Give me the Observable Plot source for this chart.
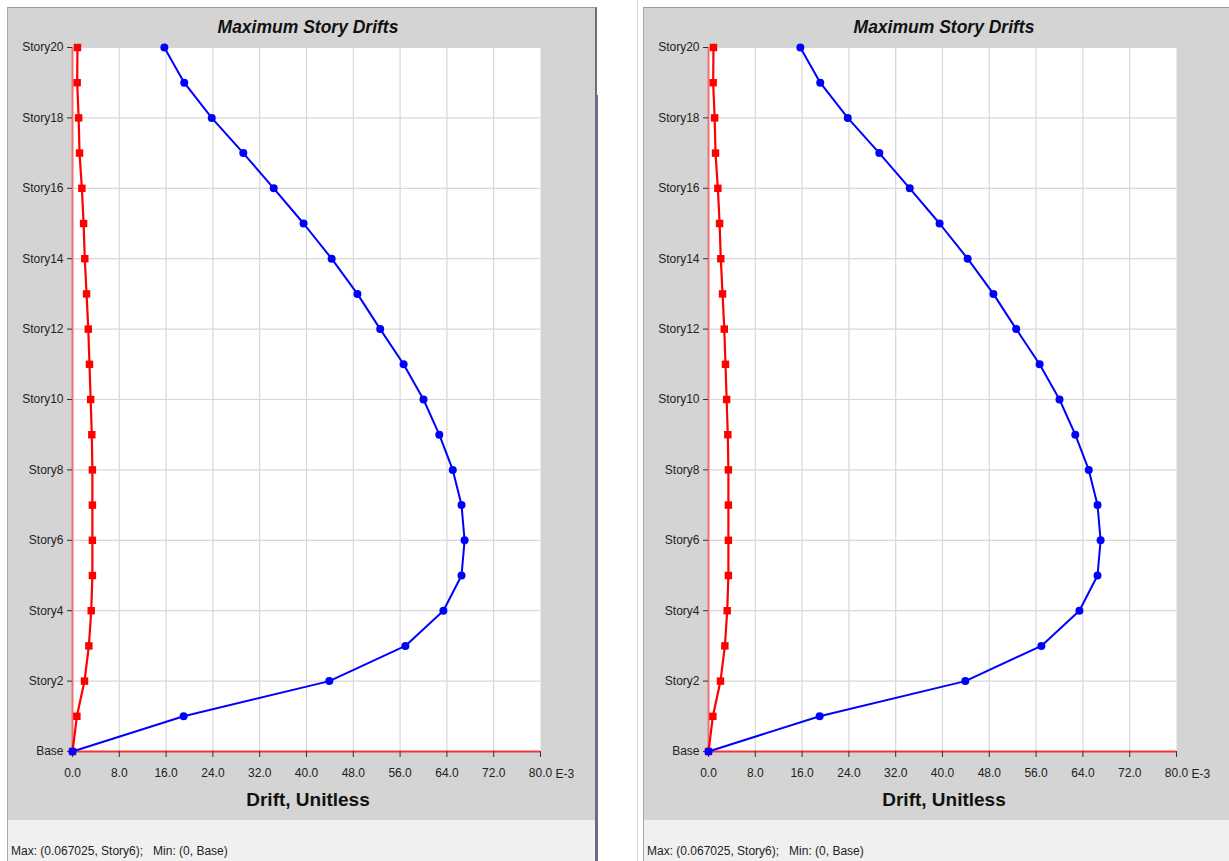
<!DOCTYPE html>
<html>
<head>
<meta charset="utf-8">
<script src="https://cdn.jsdelivr.net/npm/d3@7"></script>
<script src="https://cdn.jsdelivr.net/npm/@observablehq/plot@0.6"></script>
<style>
  html, body { margin: 0; padding: 0; background: #ffffff; width: 1229px; height: 861px; overflow: hidden; }
  body { position: relative; font-family: "Liberation Sans", Arial, sans-serif; }
  .panel { position: absolute; top: 7px; height: 860px; background: #f0f0f0; box-sizing: border-box;
           border-top: 1px solid #9a9a9a; border-left: 1px solid #a8a8a8; }
  .gray { position: absolute; left: 0; top: 0; width: 100%; height: 812px; background: #d4d4d4; }
  .plotbox { position: absolute; top: 0; }
  .title { position: absolute; top: 9px; font-weight: bold; font-style: italic; font-size: 17.5px; color: #111;
           transform: translateX(-50%); white-space: nowrap; }
  .xlabel { position: absolute; top: 781px; font-weight: bold; font-size: 19px; color: #111;
            transform: translateX(-50%); white-space: nowrap; }
  .status { position: absolute; top: 836px; font-size: 12px; color: #222; white-space: pre; }
</style>
</head>
<body>
<div id="root"></div>
<script>
// ---- data (drift values in E-3 units) ----
const stories = ["Base","Story1","Story2","Story3","Story4","Story5","Story6","Story7","Story8","Story9","Story10",
                 "Story11","Story12","Story13","Story14","Story15","Story16","Story17","Story18","Story19","Story20"];
const driftBlue = [0, 19.0, 43.9, 56.9, 63.4, 66.5, 67.025, 66.5, 65.0, 62.7, 60.0,
                   56.6, 52.6, 48.7, 44.3, 39.5, 34.4, 29.2, 23.8, 19.1, 15.7];
const driftRed  = [0, 0.75, 2.05, 2.8, 3.2, 3.4, 3.4, 3.4, 3.4, 3.3, 3.1,
                   2.9, 2.7, 2.4, 2.1, 1.9, 1.6, 1.2, 1.05, 0.8, 0.85];
const xTicks = [0, 8, 16, 24, 32, 40, 48, 56, 64, 72, 80];
const yTickLabels = ["Base","Story2","Story4","Story6","Story8","Story10","Story12","Story14","Story16","Story18","Story20"];
const chartTitle = "Maximum Story Drifts";
const xLabel = "Drift, Unitless";
const xUnitSuffix = "E-3";
const statusText = "Max: (0.067025, Story6);   Min: (0, Base)";

const blueData = stories.map((s, i) => ({story: s, drift: driftBlue[i]}));
const redData = stories.map((s, i) => ({story: s, drift: driftRed[i]}));

const W = 586, H = 812, ML = 64, MR = 54, MT = 39, MB = 69;

function makeChart() {
  return Plot.plot({
    width: W, height: H,
    marginLeft: ML, marginRight: MR, marginTop: MT, marginBottom: MB,
    style: {background: "transparent", fontFamily: "'Liberation Sans', Arial, sans-serif", fontSize: "12px", color: "#222"},
    x: {domain: [0, 80], label: null},
    y: {type: "point", domain: stories, reverse: true, padding: 0, round: false, label: null},
    marks: [
      Plot.frame({fill: "white", stroke: null}),
      Plot.ruleX(xTicks.slice(1, -1), {stroke: "#d8d8d8", strokeWidth: 1.2}),
      Plot.ruleY(yTickLabels.slice(1), {stroke: "#d8d8d8", strokeWidth: 1.2}),
      Plot.ruleX([0], {stroke: "#f07070", strokeWidth: 2}),
      Plot.ruleY(["Base"], {stroke: "#f03838", strokeWidth: 1.8}),
      Plot.axisX({ticks: xTicks, tickFormat: d => d.toFixed(1), tickSize: 6, tickPadding: 11, stroke: "#333", fill: "#222", label: null}),
      Plot.text([80], {x: d => d, y: () => "Base", text: () => xUnitSuffix, textAnchor: "start", dx: 15, dy: 23, fill: "#222", fontSize: 12}),
      Plot.axisY({ticks: yTickLabels, tickSize: 5, tickPadding: 4, stroke: "#333", fill: "#222", label: null}),
      Plot.line(redData, {x: "drift", y: "story", stroke: "#ff0000", strokeWidth: 2.2}),
      Plot.dot(redData, {x: "drift", y: "story", symbol: "square", r: 4.2, fill: "#ff0000", stroke: null}),
      Plot.line(blueData, {x: "drift", y: "story", stroke: "#0000ff", strokeWidth: 2}),
      Plot.dot(blueData, {x: "drift", y: "story", r: 4, fill: "#0000ff", stroke: null})
    ]
  });
}

function makePanel(left, width, rightBorder) {
  const panel = document.createElement("div");
  panel.className = "panel";
  panel.style.left = left + "px";
  panel.style.width = width + "px";
  if (rightBorder) {
    panel.style.borderRight = "2px solid #6e6e6e";
  }
  const gray = document.createElement("div");
  gray.className = "gray";
  panel.appendChild(gray);
  const box = document.createElement("div");
  box.className = "plotbox";
  box.style.left = "0px";
  box.appendChild(makeChart());
  panel.appendChild(box);
  const center = ML + (W - ML - MR) / 2 + 2;
  const t = document.createElement("div");
  t.className = "title"; t.textContent = chartTitle; t.style.left = center + "px";
  panel.appendChild(t);
  const xl = document.createElement("div");
  xl.className = "xlabel"; xl.textContent = xLabel; xl.style.left = center + "px";
  panel.appendChild(xl);
  const st = document.createElement("div");
  st.className = "status"; st.textContent = statusText; st.style.left = "3px";
  panel.appendChild(st);
  document.getElementById("root").appendChild(panel);
}

makePanel(7, 590, true);
makePanel(643, 600, false);

// separator accent lines
const sep = document.createElement("div");
sep.style.cssText = "position:absolute;left:597px;top:95px;width:1px;height:766px;background:#6a6ab0;";
document.body.appendChild(sep);
const sep2 = document.createElement("div");
sep2.style.cssText = "position:absolute;left:637px;top:0px;width:1px;height:861px;background:#d8d8d8;";
document.body.appendChild(sep2);
</script>
</body>
</html>
